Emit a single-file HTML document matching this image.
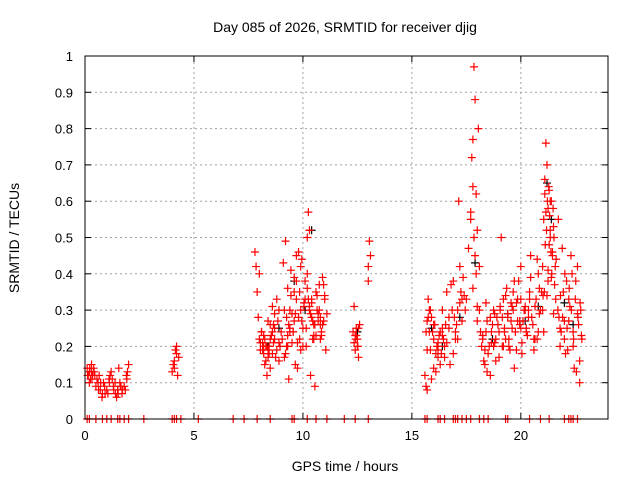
<!DOCTYPE html>
<html><head><meta charset="utf-8"><style>
body{margin:0;background:#fff}
svg{display:block;font-family:"Liberation Sans",sans-serif}
</style></head><body>
<svg id="chart" width="640" height="480" xmlns="http://www.w3.org/2000/svg">
<text x="345" y="32" font-size="14" text-anchor="middle">Day 085 of 2026, SRMTID for receiver djig</text>
<text x="345" y="471" font-size="14" text-anchor="middle">GPS time / hours</text>
<text x="19" y="238" font-size="14" text-anchor="middle" transform="rotate(-90 19 238)">SRMTID / TECUs</text>
<g id="grid"></g>
<g id="ticks"></g>
<g id="marks"></g>
<rect x="85" y="56" width="523" height="363" fill="none" stroke="#000" stroke-width="1"/>
</svg>
<script>
const xTicks=[0,5,10,15,20];
const yTicks=[0,0.1,0.2,0.3,0.4,0.5,0.6,0.7,0.8,0.9,1];
const yTickLabels=["0","0.1","0.2","0.3","0.4","0.5","0.6","0.7","0.8","0.9","1"];
const redHours=[0.1,0.15,0.2,0.25,0.3,0.35,0.4,0.2,0.3,0.45,0.5,0.6,0.7,0.8,0.9,1.0,1.1,1.2,1.3,1.4,1.5,1.6,1.7,1.8,1.9,2.0,0.65,0.85,1.05,1.25,1.45,1.65,1.85,1.95,0.55,1.15,1.55,
4.0,4.05,4.1,4.15,4.2,4.25,4.3,4.1,4.2,
7.8,7.85,7.9,7.95,8.0,8.05,8.1,8.15,8.2,8.3,8.4,8.5,8.6,8.7,8.8,8.9,9.0,8.0,8.2,8.4,8.6,8.8,8.5,8.7,8.9,8.25,8.45,8.65,8.35,
9.1,9.2,9.3,9.4,9.5,9.6,9.7,9.8,9.9,10.0,10.1,10.2,10.3,10.4,10.5,10.6,10.7,10.8,10.9,11.0,11.1,9.15,9.35,9.55,9.75,9.95,10.15,10.35,10.55,10.75,10.95,9.25,9.45,9.65,9.85,10.05,10.25,10.45,10.65,10.85,11.05,9.3,9.6,9.9,10.2,10.5,10.8,10.4,10.3,9.4,9.7,
12.3,12.35,12.4,12.45,12.5,12.55,12.6,12.4,12.5,13.0,13.05,13.0,13.1,
15.6,15.65,15.7,15.75,15.8,15.85,15.9,16.0,16.1,16.2,16.3,16.4,16.5,16.6,15.7,15.9,16.1,16.3,16.5,15.8,16.0,16.2,16.4,
16.7,16.8,16.9,17.0,17.1,17.2,17.3,17.4,16.75,16.95,17.15,17.35,17.0,17.2,
17.5,17.6,17.7,17.75,17.8,17.85,17.9,17.95,18.0,18.05,18.1,17.8,17.9,18.0,17.85,17.7,17.95,17.8,18.0,18.1,
18.2,18.3,18.4,18.5,18.6,18.7,18.8,18.9,19.0,19.1,19.2,19.3,19.4,19.5,19.6,19.7,19.8,19.9,20.0,20.1,20.2,20.3,20.4,20.5,20.6,20.7,20.8,20.9,18.25,18.45,18.65,18.85,19.05,19.25,19.45,19.65,19.85,20.05,20.25,20.45,20.65,20.85,18.35,18.75,19.15,19.55,19.95,20.35,20.75,19.3,19.7,20.0,
21.0,21.05,21.1,21.15,21.2,21.25,21.3,21.35,21.4,21.45,21.5,21.55,21.1,21.2,21.3,21.4,21.5,21.0,21.15,21.25,21.35,21.45,21.05,21.6,
21.7,21.8,21.9,22.0,22.1,22.2,22.3,22.4,22.5,22.6,22.7,22.8,21.75,21.95,22.15,22.35,22.55,22.75,21.85,22.05,22.25,22.45,22.65,22.7];
const redValues=[0.14,0.12,0.13,0.11,0.15,0.12,0.14,0.1,0.13,0.12,0.09,0.1,0.08,0.07,0.09,0.08,0.11,0.13,0.09,0.07,0.08,0.1,0.07,0.09,0.12,0.15,0.12,0.1,0.07,0.11,0.06,0.09,0.08,0.13,0.11,0.12,0.14,
0.13,0.15,0.14,0.19,0.2,0.12,0.17,0.16,0.18,
0.46,0.42,0.35,0.28,0.22,0.19,0.24,0.21,0.18,0.2,0.17,0.22,0.31,0.25,0.19,0.16,0.24,0.4,0.23,0.27,0.18,0.33,0.14,0.29,0.21,0.15,0.2,0.26,0.12,
0.43,0.49,0.36,0.3,0.21,0.27,0.33,0.46,0.19,0.25,0.38,0.4,0.31,0.28,0.23,0.35,0.29,0.26,0.39,0.33,0.29,0.17,0.11,0.24,0.14,0.44,0.2,0.12,0.09,0.3,0.37,0.28,0.41,0.15,0.22,0.32,0.57,0.27,0.34,0.23,0.19,0.23,0.35,0.3,0.5,0.26,0.22,0.33,0.52,0.24,0.38,
0.24,0.21,0.19,0.25,0.22,0.17,0.26,0.23,0.2,0.42,0.49,0.38,0.45,
0.12,0.09,0.27,0.33,0.24,0.19,0.11,0.22,0.18,0.21,0.15,0.3,0.2,0.35,0.08,0.28,0.13,0.24,0.17,0.3,0.26,0.19,0.23,
0.25,0.37,0.18,0.22,0.3,0.42,0.27,0.34,0.15,0.28,0.6,0.39,0.24,0.32,
0.33,0.47,0.57,0.72,0.77,0.97,0.88,0.62,0.52,0.8,0.42,0.64,0.45,0.31,0.5,0.55,0.4,0.36,0.27,0.3,
0.2,0.16,0.24,0.18,0.12,0.26,0.21,0.28,0.17,0.5,0.33,0.22,0.29,0.19,0.25,0.14,0.32,0.38,0.42,0.27,0.31,0.23,0.35,0.28,0.19,0.33,0.24,0.3,0.22,0.13,0.21,0.16,0.3,0.24,0.2,0.35,0.27,0.18,0.25,0.45,0.22,0.36,0.15,0.2,0.28,0.32,0.26,0.3,0.44,0.34,0.38,0.33,
0.42,0.55,0.62,0.76,0.7,0.58,0.63,0.5,0.6,0.45,0.53,0.37,0.66,0.34,0.48,0.39,0.29,0.3,0.57,0.41,0.52,0.46,0.24,0.33,
0.3,0.25,0.47,0.22,0.38,0.27,0.45,0.2,0.33,0.42,0.16,0.22,0.28,0.35,0.19,0.4,0.13,0.3,0.24,0.18,0.31,0.14,0.26,0.1];
const extraHours=[0.12,0.22,0.32,0.42,0.62,0.72,0.92,1.12,1.32,1.52,1.72,1.92,0.78,1.38,1.62,
8.05,8.15,8.25,8.35,8.45,8.55,8.65,8.75,8.85,8.95,8.1,8.3,8.5,8.7,8.9,8.2,8.4,8.6,
9.05,9.15,9.25,9.35,9.45,9.55,9.65,9.75,9.85,9.95,10.05,10.15,10.25,10.35,10.45,10.55,10.65,10.75,10.85,10.95,9.2,9.4,9.6,9.8,10.0,10.2,10.4,10.6,10.8,11.0,9.5,9.9,10.3,10.7,9.3,9.7,10.1,10.5,10.9,
12.35,12.45,12.55,12.42,12.52,
15.65,15.75,15.85,15.95,16.05,16.15,16.25,16.35,16.45,16.55,15.7,16.0,16.2,16.4,16.6,
16.7,16.85,17.05,17.25,17.45,16.9,17.1,17.3,
18.15,18.25,18.35,18.45,18.55,18.65,18.75,18.85,18.95,19.05,19.15,19.25,19.35,19.45,19.55,19.65,19.75,19.85,19.95,20.05,20.15,20.25,20.35,20.45,20.55,20.65,20.75,20.85,20.95,18.4,18.8,19.2,19.6,20.0,20.4,20.8,18.6,19.0,19.4,19.8,20.2,20.6,
21.02,21.12,21.22,21.32,21.42,21.52,21.62,21.08,21.18,21.28,21.38,21.48,21.58,21.25,21.35,
21.72,21.82,21.92,22.02,22.12,22.22,22.32,22.42,22.52,22.62,22.72,21.8,22.0,22.2,22.4,22.6,22.78];
const extraValues=[0.12,0.14,0.11,0.13,0.08,0.1,0.07,0.1,0.08,0.07,0.08,0.11,0.06,0.1,0.09,
0.21,0.19,0.22,0.2,0.18,0.23,0.21,0.17,0.27,0.2,0.24,0.16,0.26,0.22,0.3,0.2,0.19,0.24,
0.22,0.3,0.2,0.26,0.34,0.24,0.29,0.21,0.35,0.27,0.31,0.25,0.33,0.29,0.22,0.26,0.3,0.37,0.24,0.27,0.18,0.25,0.39,0.28,0.2,0.36,0.32,0.23,0.28,0.34,0.29,0.42,0.3,0.27,0.2,0.45,0.33,0.22,0.26,0.31,
0.23,0.25,0.22,0.2,0.24,
0.28,0.3,0.24,0.26,0.2,0.23,0.18,0.22,0.26,0.19,0.14,0.17,0.25,0.21,0.28,
0.3,0.26,0.35,0.3,0.38,0.22,0.33,0.24,
0.23,0.19,0.27,0.2,0.24,0.3,0.22,0.26,0.31,0.2,0.25,0.36,0.22,0.27,0.3,0.24,0.33,0.27,0.21,0.3,0.24,0.28,0.39,0.26,0.31,0.22,0.29,0.35,0.32,0.29,0.2,0.31,0.25,0.33,0.4,0.28,0.24,0.28,0.19,0.3,0.22,0.34,
0.48,0.6,0.56,0.4,0.5,0.44,0.35,0.52,0.64,0.46,0.58,0.42,0.38,0.6,0.55,
0.34,0.28,0.4,0.25,0.36,0.3,0.22,0.38,0.28,0.32,0.2,0.27,0.33,0.24,0.29,0.23,0.17];
const blackHours=[0.3,1.5,8.4,8.9,9.6,10.1,10.4,12.5,15.9,16.4,17.2,17.9,18.7,19.4,20.2,20.8,21.2,21.4,22.0,22.4];
const blackValues=[0.13,0.08,0.2,0.25,0.38,0.3,0.52,0.24,0.25,0.2,0.28,0.43,0.22,0.29,0.27,0.31,0.65,0.55,0.32,0.26];
const zeroHours=[0.1,0.2,0.5,0.8,1.0,1.2,1.5,1.6,1.8,2.0,2.7,4.0,4.1,4.2,4.4,5.2,6.8,7.3,7.9,8.5,9.5,9.6,10.2,10.6,11.1,11.9,12.4,13.0,15.6,15.7,16.2,16.3,16.5,16.9,17.0,17.1,17.3,17.5,17.7,18.1,18.3,18.5,19.3,19.4,20.4,20.9,21.3,22.0,22.2,22.3,22.4,22.6];

const X0=85,X1=608,Y0=419,Y1=56,XMAX=24;
const xs=h=>X0+h/XMAX*(X1-X0);
const ys=v=>Y0-v*(Y0-Y1);
const NS="http://www.w3.org/2000/svg";
const grid=document.getElementById('grid'),ticks=document.getElementById('ticks'),marks=document.getElementById('marks');
function mk(tag,attrs,parent){const e=document.createElementNS(NS,tag);for(const k in attrs)e.setAttribute(k,attrs[k]);parent.appendChild(e);return e;}
xTicks.forEach(t=>{const x=xs(t);
 if(t>0){const g=mk('line',{x1:x,x2:x,y1:Y0,y2:Y1,stroke:'#a0a0a0','stroke-dasharray':'2,3'},grid);
 
 }
 mk('line',{x1:x,x2:x,y1:Y0,y2:Y0-6,stroke:'#000'},ticks);
 mk('line',{x1:x,x2:x,y1:Y1,y2:Y1+6,stroke:'#000'},ticks);
 const l=mk('text',{x:x,y:Y0+21,'font-size':13,'text-anchor':'middle'},ticks);l.textContent=t;
 
 });
yTicks.forEach((t,i)=>{const y=ys(t);
 if(t>0&&t<1){const g=mk('line',{x1:X0,x2:X1,y1:y,y2:y,stroke:'#a0a0a0','stroke-dasharray':'2,3'},grid);
 
 }
 mk('line',{x1:X0,x2:X0+6,y1:y,y2:y,stroke:'#000'},ticks);
 mk('line',{x1:X1,x2:X1-6,y1:y,y2:y,stroke:'#000'},ticks);
 const l=mk('text',{x:X0-12,y:y+5,'font-size':13,'text-anchor':'end'},ticks);l.textContent=yTickLabels[i];
 
 });
function plus(h,v,col,name){const x=xs(h),y=ys(v);
 const p=mk('path',{d:`M${x-4},${y}H${x+4}M${x},${y-4}V${y+4}`,stroke:col,'stroke-width':1.2,fill:'none'},marks);
 
 }
blackHours.forEach((h,i)=>plus(h,blackValues[i],'#000','black-point'));
redHours.forEach((h,i)=>plus(h,redValues[i],'#f00','red-point'));
extraHours.forEach((h,i)=>plus(h,extraValues[i],'#f00','red-point'));
zeroHours.forEach(h=>plus(h,0,'#f00','zero-point'));
</script>
</body></html>
